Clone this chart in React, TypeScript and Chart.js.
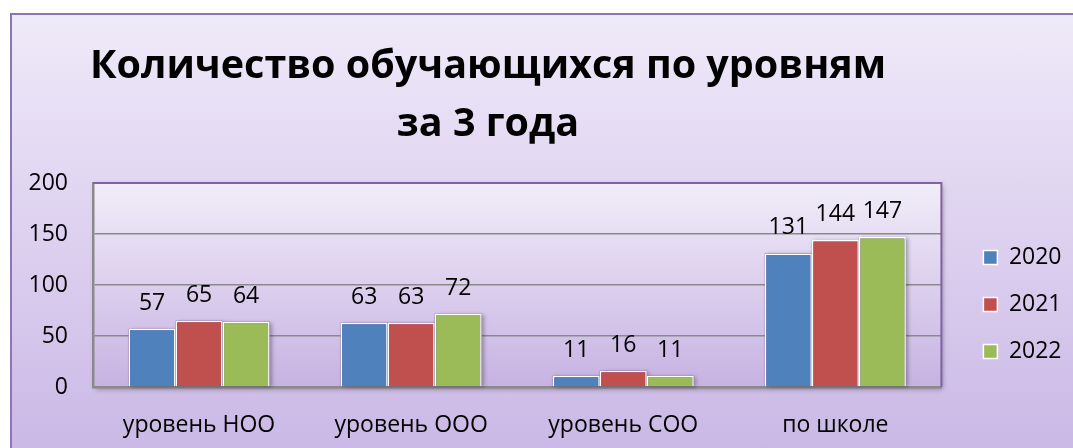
import React, { useEffect, useRef } from 'react';
import { Chart, registerables } from 'chart.js';

Chart.register(...registerables);

const categories = ['уровень НОО', 'уровень ООО', 'уровень СОО', 'по школе'];
const seriesLabels = ['2020', '2021', '2022'];
const values2020 = [57, 63, 11, 131];
const values2021 = [65, 63, 16, 144];
const values2022 = [64, 72, 11, 147];
const yTicks = [0, 50, 100, 150, 200];
const titleLines = ['Количество обучающихся по уровням', 'за 3 года'];
const seriesColors = ['#4F81BD', '#C0504D', '#9BBB59'];

const FONT = '"Open Sans", "DejaVu Sans", sans-serif';
const TEXT_SIZE = 23;

const plotBackground = {
  id: 'plotBackground',
  beforeDraw(chart: any) {
    const { ctx, chartArea: a } = chart;
    ctx.save();
    ctx.shadowColor = 'rgba(0,0,0,0.35)';
    ctx.shadowBlur = 5;
    ctx.shadowOffsetX = 2;
    ctx.shadowOffsetY = 2;
    const g = ctx.createLinearGradient(0, a.top, 0, a.bottom);
    g.addColorStop(0, '#F1EDF9');
    g.addColorStop(1, '#C7B2E2');
    ctx.fillStyle = g;
    ctx.fillRect(a.left, a.top, a.right - a.left, a.bottom - a.top);
    ctx.restore();
  },
};

const titlePlugin = {
  id: 'titlePlugin',
  afterDraw(chart: any) {
    const { ctx } = chart;
    ctx.save();
    ctx.fillStyle = '#000000';
    ctx.font = `bold 39.5px ${FONT}`;
    ctx.textAlign = 'center';
    ctx.textBaseline = 'alphabetic';
    const cx = 488;
    ctx.fillText(titleLines[0], cx, 78);
    ctx.fillText(titleLines[1], cx, 136);
    ctx.restore();
  },
};

const barShadows = {
  id: 'barShadows',
  beforeDatasetsDraw(chart: any) {
    const { ctx } = chart;
    ctx.save();
    ctx.shadowColor = 'rgba(0,0,0,0.3)';
    ctx.shadowBlur = 4;
    ctx.shadowOffsetX = 2;
    ctx.shadowOffsetY = 1;
    ctx.fillStyle = 'rgba(120,100,150,1)';
    chart.data.datasets.forEach((_: any, i: number) => {
      const meta = chart.getDatasetMeta(i);
      meta.data.forEach((el: any) => {
        const { x, y, base, width } = el.getProps(['x', 'y', 'base', 'width'], true);
        ctx.fillRect(x - width / 2, y, width, base - y);
      });
    });
    ctx.restore();
  },
};

const frameAndLabels = {
  id: 'frameAndLabels',
  afterDatasetsDraw(chart: any) {
    const { ctx, chartArea: a } = chart;
    ctx.save();
    ctx.strokeStyle = '#8064A2';
    ctx.lineWidth = 2;
    ctx.beginPath();
    ctx.moveTo(a.left, a.top);
    ctx.lineTo(a.right, a.top);
    ctx.lineTo(a.right, a.bottom);
    ctx.stroke();

    ctx.fillStyle = '#000000';
    ctx.font = `${TEXT_SIZE}px ${FONT}`;
    ctx.textAlign = 'center';
    ctx.textBaseline = 'alphabetic';
    chart.data.datasets.forEach((ds: any, i: number) => {
      const meta = chart.getDatasetMeta(i);
      meta.data.forEach((el: any, j: number) => {
        const { x, y } = el.getProps(['x', 'y'], true);
        ctx.fillText(String(ds.data[j]), x, y - 19);
      });
    });
    ctx.restore();
  },
};

export default function App() {
  const canvasRef = useRef<HTMLCanvasElement | null>(null);

  useEffect(() => {
    if (!canvasRef.current) return;
    const seriesData = [values2020, values2021, values2022];
    const chart = new Chart(canvasRef.current, {
      type: 'bar',
      data: {
        labels: categories,
        datasets: seriesLabels.map((label, i) => ({
          label,
          data: seriesData[i],
          backgroundColor: seriesColors[i],
          borderColor: '#FFFFFF',
          borderWidth: 1.5,
          categoryPercentage: 0.665,
          barPercentage: 1,
        })),
      },
      options: {
        responsive: false,
        animation: false,
        layout: { padding: { top: 183, left: 0, right: 1.5, bottom: 0 } },
        plugins: {
          title: { display: false },
          tooltip: { enabled: false },
          legend: {
            position: 'right',
            align: 'end',
            fullSize: false,
            labels: {
              boxWidth: 14,
              boxHeight: 14,
              padding: 24,
              color: '#000000',
              font: { family: FONT, size: TEXT_SIZE },
            },
          },
        },
        scales: {
          x: {
            grid: { display: false, drawTicks: false },
            border: { display: true, color: '#8A8A8A', width: 2.5 },
            ticks: { color: '#000000', font: { family: FONT, size: TEXT_SIZE }, padding: 25, maxRotation: 0 },
            afterFit: (s: any) => {
              s.height = 61;
            },
          },
          y: {
            min: 0,
            max: 200,
            afterBuildTicks: (s: any) => {
              s.ticks = yTicks.map((v) => ({ value: v }));
            },
            grid: { color: '#8A8A8A', lineWidth: 1.5, drawTicks: false },
            border: { display: true, color: '#8A8A8A', width: 2.5 },
            ticks: { color: '#000000', font: { family: FONT, size: TEXT_SIZE }, padding: 25 },
            afterFit: (s: any) => {
              s.width = 93;
            },
          },
          yR: {
            position: 'right',
            display: true,
            grid: { display: false, drawTicks: false },
            border: { display: false },
            ticks: { display: false },
            afterFit: (s: any) => {
              s.width = 18;
            },
          },
        },
      },
      plugins: [plotBackground, barShadows, frameAndLabels, titlePlugin],
    } as any);
    return () => chart.destroy();
  }, []);

  return (
    <div
      style={{
        position: 'fixed',
        left: 0,
        top: 0,
        width: 1073,
        height: 448,
        overflow: 'hidden',
        background: '#FFFFFF',
      }}
    >
      <div
        style={{
          position: 'absolute',
          left: 10,
          top: 13,
          width: 1080,
          height: 460,
          borderLeft: '2px solid #8B77B8',
          borderTop: '2px solid #8B77B8',
          background: 'linear-gradient(to bottom, #EFEAF9 0px, #CBB8E6 435px)',
        }}
      />
      <canvas
        ref={canvasRef}
        width={1073}
        height={448}
        style={{ position: 'absolute', left: 0, top: 0, width: 1073, height: 448 }}
      />
    </div>
  );
}
